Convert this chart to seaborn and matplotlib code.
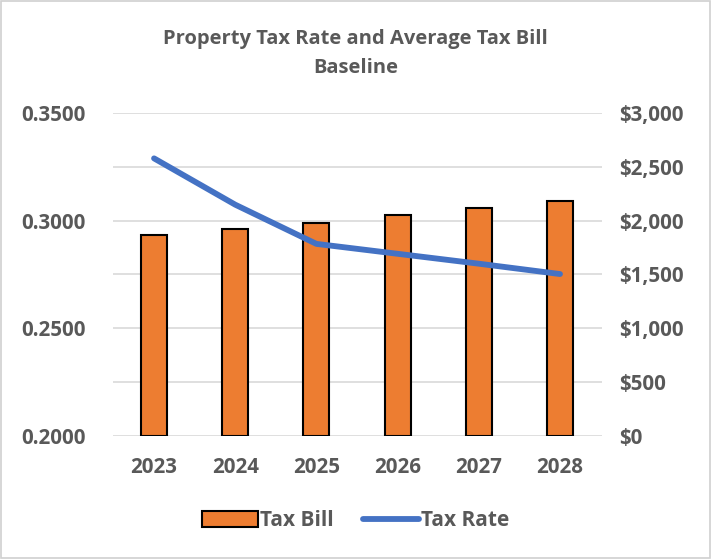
import matplotlib
matplotlib.use("Agg")
import matplotlib.pyplot as plt
from matplotlib.patches import Patch, Rectangle
from matplotlib.lines import Line2D
from matplotlib.ticker import FuncFormatter
import numpy as np
import pandas as pd
import seaborn as sns

years = ["2023", "2024", "2025", "2026", "2027", "2028"]
tax_bill = [1866, 1921, 1980, 2048, 2113, 2182]
tax_rate = [0.3289, 0.3074, 0.2892, 0.2846, 0.2800, 0.2752]

rate_ticks = [0.2000, 0.2500, 0.3000, 0.3500]
bill_ticks = [0, 500, 1000, 1500, 2000, 2500, 3000]

df = pd.DataFrame({"Year": years, "Tax Bill": tax_bill, "Tax Rate": tax_rate})

sns.set_theme(style="white")
plt.rcParams["font.family"] = ["Open Sans", "DejaVu Sans"]
text_color = "#595959"
orange = "#ED7D31"
blue = "#4472C4"
grid_color = "#D9D9D9"
tick_size = 14.8

fig = plt.figure(figsize=(7.11, 5.59), dpi=100)
ax = fig.add_axes([0.159, 0.22, 0.688, 0.578])

# Bars (dollar scale) on the primary axes
sns.barplot(data=df, x="Year", y="Tax Bill", ax=ax, color=orange,
            saturation=1, width=0.32, edgecolor="black", linewidth=1.5, zorder=2)
ax.set_ylim(0, 3000)
ax.set_yticks(bill_ticks)
ax.yaxis.set_major_formatter(FuncFormatter(lambda v, p: f"${v:,.0f}"))
ax.grid(axis="y", color=grid_color, linewidth=1.2, zorder=0)
ax.set_axisbelow(True)

# Line (rate scale) on the twin axes
ax2 = ax.twinx()
sns.lineplot(data=df, x="Year", y="Tax Rate", ax=ax2, color=blue,
             linewidth=4.2, sort=False, solid_capstyle="round")
ax2.set_ylim(0.2, 0.35)
ax2.set_yticks(rate_ticks)
ax2.yaxis.set_major_formatter(FuncFormatter(lambda v, p: f"{v:.4f}"))

# Dollar scale on the right, rate scale on the left
ax.yaxis.tick_right()
ax2.yaxis.tick_left()

for a in (ax, ax2):
    a.set_xlabel("")
    a.set_ylabel("")
    for s in a.spines.values():
        s.set_visible(False)
    a.tick_params(axis="both", length=0, labelsize=tick_size, colors=text_color)
ax.tick_params(axis="x", pad=15)
ax.tick_params(axis="y", pad=12)
ax2.tick_params(axis="y", pad=20)
for a in (ax, ax2):
    for lbl in a.get_yticklabels() + a.get_xticklabels():
        lbl.set_fontweight("bold")
ax.set_xlim(-0.505, 5.52)

fig.text(0.5, 0.905, "Property Tax Rate and Average Tax Bill\nBaseline",
         ha="center", va="center", fontsize=14.5, fontweight="bold",
         color=text_color, linespacing=1.6)

handles = [Patch(facecolor=orange, edgecolor="black", linewidth=1.5),
           Line2D([0], [0], color=blue, linewidth=4.2, solid_capstyle="round")]
leg = fig.legend(handles, ["Tax Bill", "Tax Rate"], loc="center",
                 bbox_to_anchor=(0.5, 0.068), ncol=2, frameon=False,
                 handlelength=2.7, handleheight=0.8, handletextpad=0.1,
                 columnspacing=1.4, prop={"size": 15, "weight": "bold"})
for t in leg.get_texts():
    t.set_color(text_color)

fig.patches.append(Rectangle((0.002, 0.002), 0.996, 0.996, transform=fig.transFigure,
                             fill=False, edgecolor="#D0D0D0", linewidth=1.2))

fig.savefig("out.png", dpi=100, facecolor="white")
